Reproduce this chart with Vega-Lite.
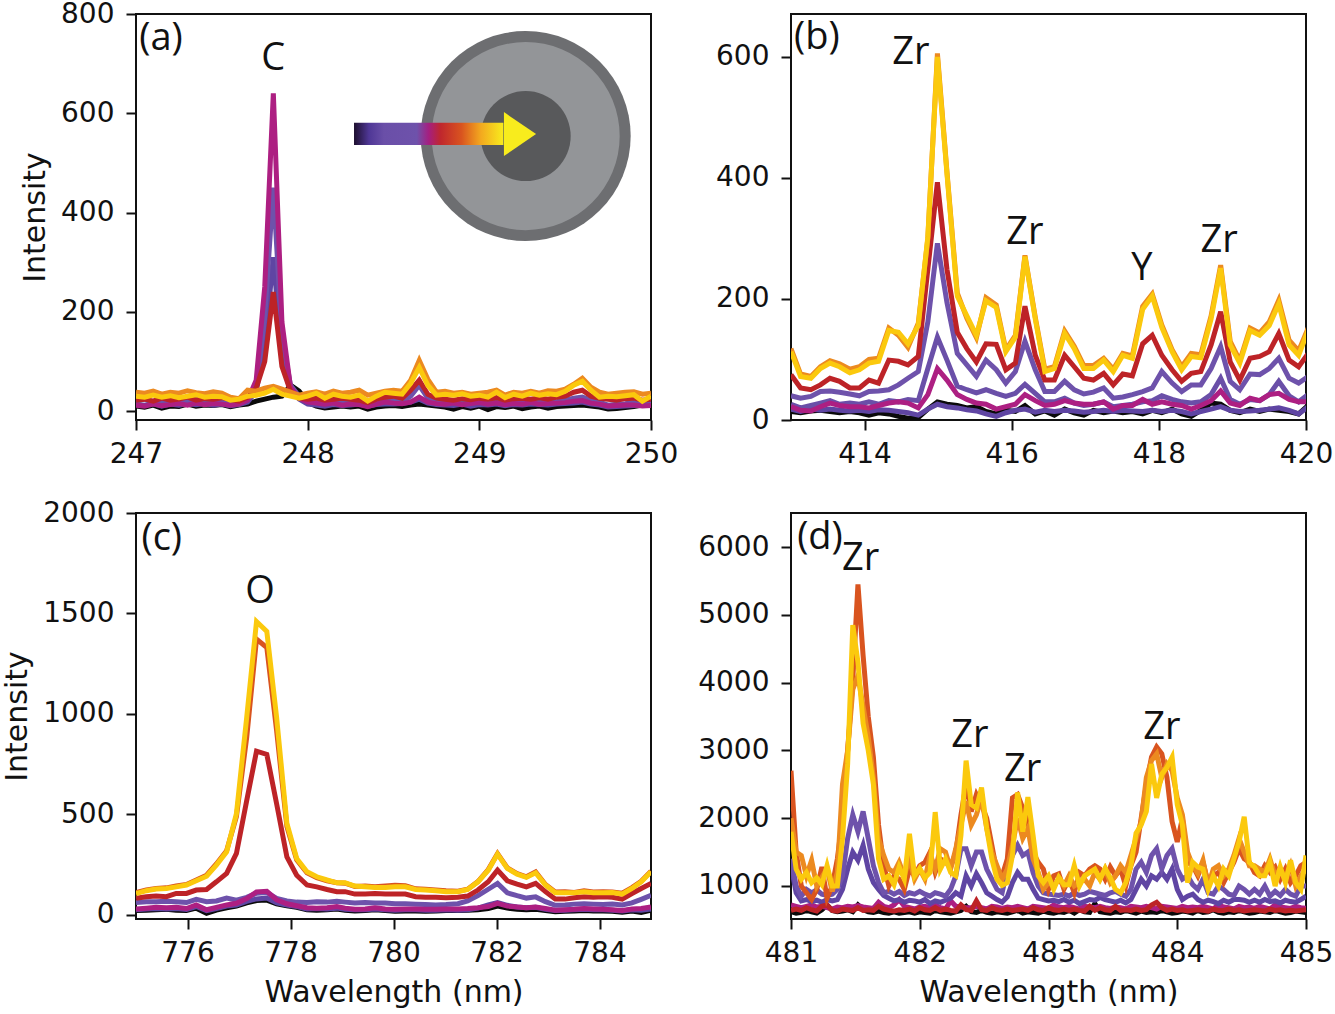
{
"$schema":"https://vega.github.io/schema/vega-lite/v6.json",
"description":"Emission spectra along the radius of a particle, four wavelength windows",
"background":"white",
"padding":{"left":1,"top":-1,"right":0,"bottom":0},
"columns":2,
"spacing":{"column":17,"row":29},
"config":{
"font":"DejaVu Sans",
"view":{"stroke":"#111111","strokeWidth":2},
"axis":{"grid":false,"domain":false,"format":"d","tickColor":"#111111","tickWidth":2,"tickSize":10,"labelFontSize":28,"labelColor":"#111111","titleFontSize":30,"titleFontWeight":"normal","titleColor":"#111111","labelFlush":false,"labelOverlap":false},
"axisX":{"labelPadding":10,"titlePadding":10},
"axisY":{"labelPadding":12,"titlePadding":10}
},
"concat":[
{"width":515,"height":406,
"encoding":{
"x":{"field":"x","type":"quantitative","scale":{"domain":[247,250],"nice":false,"zero":false},"axis":{"values":[247,248,249,250],"title":null}},
"y":{"field":"y","type":"quantitative","scale":{"domain":[-18,800],"nice":false,"zero":false},"axis":{"values":[0,200,400,600,800],"title":"Intensity"}}
},
"layer":[
{"data":{"values":[
{"x":247.00,"k":10,"i":14,"p":20,"m":12,"r":22,"o":38,"g":30},
{"x":247.05,"k":8,"i":12,"p":24,"m":10,"r":24,"o":36,"g":28},
{"x":247.10,"k":12,"i":15,"p":18,"m":14,"r":20,"o":40,"g":32},
{"x":247.15,"k":6,"i":10,"p":20,"m":11,"r":26,"o":34,"g":28},
{"x":247.20,"k":10,"i":14,"p":22,"m":13,"r":22,"o":38,"g":31},
{"x":247.25,"k":9,"i":12,"p":19,"m":15,"r":24,"o":36,"g":27},
{"x":247.30,"k":14,"i":15,"p":21,"m":12,"r":28,"o":41,"g":30},
{"x":247.35,"k":10,"i":13,"p":24,"m":16,"r":22,"o":37,"g":33},
{"x":247.40,"k":12,"i":15,"p":20,"m":13,"r":25,"o":35,"g":28},
{"x":247.45,"k":11,"i":12,"p":18,"m":15,"r":24,"o":39,"g":30},
{"x":247.50,"k":13,"i":14,"p":22,"m":14,"r":27,"o":36,"g":29},
{"x":247.55,"k":9,"i":11,"p":18,"m":12,"r":23,"o":28,"g":22},
{"x":247.60,"k":12,"i":13,"p":16,"m":14,"r":20,"o":25,"g":24},
{"x":247.65,"k":14,"i":18,"p":24,"m":22,"r":28,"o":42,"g":30},
{"x":247.70,"k":20,"i":40,"p":44,"m":62,"r":46,"o":40,"g":32},
{"x":247.75,"k":24,"i":130,"p":190,"m":250,"r":100,"o":46,"g":36},
{"x":247.80,"k":28,"i":310,"p":450,"m":640,"r":240,"o":50,"g":44},
{"x":247.85,"k":30,"i":110,"p":150,"m":180,"r":90,"o":44,"g":34},
{"x":247.90,"k":52,"i":44,"p":52,"m":48,"r":40,"o":38,"g":30},
{"x":247.95,"k":40,"i":24,"p":30,"m":26,"r":26,"o":32,"g":26},
{"x":248.00,"k":18,"i":14,"p":22,"m":18,"r":24,"o":36,"g":30},
{"x":248.05,"k":10,"i":12,"p":20,"m":16,"r":26,"o":39,"g":36},
{"x":248.10,"k":6,"i":10,"p":16,"m":14,"r":22,"o":34,"g":26},
{"x":248.15,"k":8,"i":13,"p":14,"m":16,"r":24,"o":40,"g":34},
{"x":248.20,"k":10,"i":11,"p":18,"m":12,"r":26,"o":36,"g":30},
{"x":248.25,"k":8,"i":12,"p":15,"m":14,"r":24,"o":38,"g":28},
{"x":248.30,"k":10,"i":14,"p":18,"m":13,"r":22,"o":42,"g":32},
{"x":248.35,"k":4,"i":10,"p":12,"m":9,"r":17,"o":32,"g":20},
{"x":248.40,"k":8,"i":13,"p":18,"m":14,"r":24,"o":36,"g":30},
{"x":248.45,"k":10,"i":14,"p":20,"m":18,"r":28,"o":40,"g":38},
{"x":248.50,"k":11,"i":14,"p":22,"m":16,"r":30,"o":42,"g":36},
{"x":248.55,"k":9,"i":15,"p":18,"m":15,"r":26,"o":40,"g":34},
{"x":248.60,"k":12,"i":18,"p":30,"m":18,"r":42,"o":62,"g":56},
{"x":248.65,"k":14,"i":24,"p":52,"m":28,"r":62,"o":102,"g":88},
{"x":248.70,"k":12,"i":16,"p":26,"m":18,"r":34,"o":64,"g":52},
{"x":248.75,"k":10,"i":13,"p":20,"m":15,"r":26,"o":38,"g":32},
{"x":248.80,"k":8,"i":12,"p":16,"m":14,"r":24,"o":40,"g":34},
{"x":248.85,"k":4,"i":11,"p":18,"m":16,"r":22,"o":36,"g":32},
{"x":248.90,"k":9,"i":14,"p":17,"m":13,"r":25,"o":38,"g":35},
{"x":248.95,"k":6,"i":10,"p":20,"m":15,"r":23,"o":34,"g":30},
{"x":249.00,"k":10,"i":13,"p":18,"m":17,"r":26,"o":36,"g":32},
{"x":249.05,"k":3,"i":12,"p":22,"m":14,"r":24,"o":38,"g":28},
{"x":249.10,"k":9,"i":14,"p":19,"m":16,"r":27,"o":42,"g":38},
{"x":249.15,"k":7,"i":11,"p":17,"m":13,"r":22,"o":32,"g":27},
{"x":249.20,"k":10,"i":13,"p":21,"m":15,"r":25,"o":38,"g":34},
{"x":249.25,"k":5,"i":12,"p":18,"m":14,"r":26,"o":36,"g":30},
{"x":249.30,"k":8,"i":14,"p":22,"m":17,"r":24,"o":40,"g":36},
{"x":249.35,"k":10,"i":13,"p":18,"m":14,"r":27,"o":36,"g":32},
{"x":249.40,"k":6,"i":12,"p":20,"m":15,"r":24,"o":41,"g":35},
{"x":249.45,"k":9,"i":14,"p":19,"m":16,"r":28,"o":40,"g":33},
{"x":249.50,"k":10,"i":15,"p":22,"m":17,"r":30,"o":44,"g":40},
{"x":249.55,"k":11,"i":16,"p":26,"m":20,"r":38,"o":54,"g":52},
{"x":249.60,"k":12,"i":18,"p":28,"m":21,"r":42,"o":66,"g":60},
{"x":249.65,"k":10,"i":14,"p":22,"m":16,"r":30,"o":48,"g":42},
{"x":249.70,"k":8,"i":12,"p":18,"m":14,"r":26,"o":38,"g":28},
{"x":249.75,"k":4,"i":8,"p":12,"m":10,"r":24,"o":34,"g":30},
{"x":249.80,"k":5,"i":9,"p":14,"m":11,"r":22,"o":36,"g":29},
{"x":249.85,"k":7,"i":10,"p":15,"m":12,"r":25,"o":38,"g":31},
{"x":249.90,"k":9,"i":11,"p":17,"m":12,"r":26,"o":39,"g":33},
{"x":249.95,"k":12,"i":13,"p":14,"m":10,"r":22,"o":34,"g":20},
{"x":250.00,"k":14,"i":12,"p":18,"m":11,"r":24,"o":36,"g":30}
]},
"transform":[{"fold":["k","i","p","m","r","o","g"],"as":["series","y"]}],
"mark":{"type":"line","strokeWidth":5,"clip":true},
"encoding":{"color":{"field":"series","type":"nominal","legend":null,"scale":{"domain":["k","i","u","p","m","r","e","o","g"],"range":["#0a0a0a","#5f45a3","#6a4fa8","#6e52ab","#ad1f82","#bd2327","#d9541f","#ec8a20","#fbc90d"]}}}},
{"data":{"values":[{"x":249.27,"y":554}]},"mark":{"type":"point","filled":true,"opacity":1,"size":44100,"color":"#6d6e71"}},
{"data":{"values":[{"x":249.27,"y":554}]},"mark":{"type":"point","filled":true,"opacity":1,"size":35344,"color":"#939598"}},
{"data":{"values":[{"x":249.27,"y":554}]},"mark":{"type":"point","filled":true,"opacity":1,"size":8100,"color":"#58595b"}},
{"data":{"values":[{"x":248.27,"x2":249.14,"y":536,"y2":581}]},
"mark":{"type":"rect","color":{"gradient":"linear","x1":0,"y1":0,"x2":1,"y2":0,"stops":[{"offset":0,"color":"#1d0f2e"},{"offset":0.1,"color":"#4f3796"},{"offset":0.2,"color":"#6a4fa8"},{"offset":0.42,"color":"#6e52ab"},{"offset":0.5,"color":"#a51f80"},{"offset":0.58,"color":"#c0272d"},{"offset":0.72,"color":"#d9541f"},{"offset":0.85,"color":"#f3a91f"},{"offset":1,"color":"#f8ec1d"}]}},
"encoding":{"x2":{"field":"x2"},"y2":{"field":"y2"}}},
{"data":{"values":[{"x":249.237,"y":558}]},"mark":{"type":"point","filled":true,"opacity":1,"size":1936,"color":"#f8ec1d","shape":"M -0.73 -1 L 0.73 0 L -0.73 1 Z"}},
{"data":{"values":[{"x":247.146,"y":750,"label":"(a)"},{"x":247.8,"y":710,"label":"C"}]},
"mark":{"type":"text","font":"Open Sans","fontSize":38,"color":"#111111","align":"center","baseline":"middle"},
"encoding":{"text":{"field":"label"}}}
]},
{"width":515,"height":406,
"encoding":{
"x":{"field":"x","type":"quantitative","scale":{"domain":[413,420],"nice":false,"zero":false},"axis":{"values":[414,416,418,420],"title":null}},
"y":{"field":"y","type":"quantitative","scale":{"domain":[0,671],"nice":false,"zero":false},"axis":{"values":[0,200,400,600],"title":null}}
},
"layer":[
{"data":{"values":[
{"x":413.00,"k":14,"i":18,"u":26,"p":40,"m":22,"r":75,"o":118,"g":113},
{"x":413.13,"k":12,"i":14,"u":20,"p":36,"m":16,"r":53,"o":76,"g":72},
{"x":413.27,"k":15,"i":18,"u":24,"p":39,"m":15,"r":50,"o":72,"g":69},
{"x":413.40,"k":16,"i":16,"u":28,"p":47,"m":22,"r":58,"o":88,"g":85},
{"x":413.53,"k":14,"i":18,"u":32,"p":48,"m":28,"r":69,"o":98,"g":94},
{"x":413.66,"k":12,"i":16,"u":26,"p":46,"m":24,"r":64,"o":93,"g":88},
{"x":413.80,"k":14,"i":15,"u":28,"p":43,"m":22,"r":53,"o":84,"g":78},
{"x":413.93,"k":12,"i":16,"u":26,"p":40,"m":22,"r":53,"o":88,"g":83},
{"x":414.06,"k":8,"i":14,"u":30,"p":47,"m":20,"r":66,"o":100,"g":94},
{"x":414.19,"k":12,"i":17,"u":26,"p":48,"m":24,"r":61,"o":102,"g":97},
{"x":414.33,"k":10,"i":16,"u":32,"p":50,"m":28,"r":99,"o":152,"g":148},
{"x":414.46,"k":6,"i":14,"u":30,"p":58,"m":30,"r":97,"o":140,"g":145},
{"x":414.59,"k":3,"i":12,"u":34,"p":69,"m":28,"r":91,"o":120,"g":126},
{"x":414.73,"k":4,"i":8,"u":32,"p":80,"m":20,"r":105,"o":160,"g":156},
{"x":414.86,"k":18,"i":18,"u":85,"p":162,"m":42,"r":249,"o":300,"g":303},
{"x":414.99,"k":30,"i":26,"u":137,"p":292,"m":85,"r":393,"o":606,"g":600},
{"x":415.12,"k":26,"i":22,"u":99,"p":194,"m":66,"r":249,"o":410,"g":407},
{"x":415.26,"k":24,"i":20,"u":56,"p":110,"m":42,"r":145,"o":210,"g":205},
{"x":415.39,"k":20,"i":17,"u":50,"p":91,"m":34,"r":118,"o":168,"g":172},
{"x":415.52,"k":22,"i":15,"u":45,"p":72,"m":28,"r":96,"o":136,"g":140},
{"x":415.65,"k":14,"i":10,"u":50,"p":99,"m":26,"r":126,"o":202,"g":197},
{"x":415.79,"k":10,"i":6,"u":44,"p":83,"m":18,"r":125,"o":190,"g":186},
{"x":415.92,"k":16,"i":12,"u":39,"p":61,"m":22,"r":83,"o":116,"g":113},
{"x":416.05,"k":14,"i":16,"u":44,"p":80,"m":26,"r":94,"o":140,"g":137},
{"x":416.18,"k":24,"i":18,"u":59,"p":130,"m":42,"r":188,"o":272,"g":270},
{"x":416.32,"k":10,"i":13,"u":44,"p":83,"m":32,"r":107,"o":170,"g":167},
{"x":416.45,"k":15,"i":16,"u":30,"p":47,"m":24,"r":66,"o":84,"g":80},
{"x":416.58,"k":8,"i":14,"u":30,"p":47,"m":26,"r":66,"o":88,"g":85},
{"x":416.72,"k":18,"i":16,"u":36,"p":64,"m":32,"r":107,"o":147,"g":143},
{"x":416.85,"k":12,"i":15,"u":28,"p":50,"m":28,"r":88,"o":122,"g":118},
{"x":416.98,"k":8,"i":13,"u":24,"p":43,"m":26,"r":69,"o":90,"g":85},
{"x":417.11,"k":16,"i":14,"u":26,"p":46,"m":26,"r":66,"o":90,"g":85},
{"x":417.25,"k":12,"i":16,"u":30,"p":53,"m":30,"r":77,"o":102,"g":99},
{"x":417.38,"k":15,"i":14,"u":22,"p":36,"m":18,"r":58,"o":84,"g":80},
{"x":417.51,"k":12,"i":16,"u":24,"p":38,"m":24,"r":76,"o":110,"g":107},
{"x":417.64,"k":14,"i":15,"u":26,"p":42,"m":24,"r":73,"o":106,"g":102},
{"x":417.78,"k":10,"i":14,"u":30,"p":47,"m":34,"r":126,"o":188,"g":183},
{"x":417.91,"k":16,"i":16,"u":32,"p":53,"m":26,"r":140,"o":208,"g":205},
{"x":418.04,"k":12,"i":14,"u":40,"p":80,"m":30,"r":107,"o":157,"g":153},
{"x":418.18,"k":18,"i":16,"u":34,"p":61,"m":26,"r":83,"o":116,"g":113},
{"x":418.31,"k":10,"i":14,"u":30,"p":47,"m":24,"r":64,"o":88,"g":83},
{"x":418.44,"k":6,"i":10,"u":28,"p":58,"m":18,"r":77,"o":110,"g":105},
{"x":418.57,"k":16,"i":14,"u":30,"p":58,"m":24,"r":80,"o":108,"g":103},
{"x":418.71,"k":28,"i":18,"u":42,"p":85,"m":32,"r":124,"o":172,"g":167},
{"x":418.84,"k":26,"i":22,"u":69,"p":121,"m":48,"r":179,"o":256,"g":251},
{"x":418.97,"k":16,"i":16,"u":34,"p":64,"m":28,"r":96,"o":130,"g":124},
{"x":419.10,"k":12,"i":14,"u":26,"p":50,"m":24,"r":66,"o":98,"g":94},
{"x":419.24,"k":18,"i":15,"u":34,"p":76,"m":36,"r":102,"o":152,"g":148},
{"x":419.37,"k":14,"i":16,"u":32,"p":75,"m":32,"r":105,"o":144,"g":140},
{"x":419.50,"k":18,"i":18,"u":42,"p":85,"m":42,"r":113,"o":162,"g":156},
{"x":419.63,"k":16,"i":20,"u":64,"p":102,"m":44,"r":143,"o":198,"g":192},
{"x":419.77,"k":14,"i":16,"u":40,"p":69,"m":34,"r":99,"o":132,"g":124},
{"x":419.90,"k":10,"i":10,"u":30,"p":61,"m":30,"r":88,"o":114,"g":107},
{"x":420.03,"k":24,"i":22,"u":42,"p":72,"m":30,"r":110,"o":152,"g":148}
]},
"transform":[{"fold":["k","i","u","p","m","r","o","g"],"as":["series","y"]}],
"mark":{"type":"line","strokeWidth":5,"clip":true},
"encoding":{"color":{"field":"series","type":"nominal","legend":null,"scale":{"domain":["k","i","u","p","m","r","e","o","g"],"range":["#0a0a0a","#4a2f8f","#6a4fa8","#6e52ab","#ad1f82","#bd2327","#d9541f","#e0701f","#fbc90d"]}}}},
{"data":{"values":[{"x":413.35,"y":631,"label":"(b)"},{"x":414.63,"y":607,"label":"Zr"},{"x":416.18,"y":309,"label":"Zr"},{"x":417.77,"y":250,"label":"Y"},{"x":418.82,"y":296,"label":"Zr"}]},
"mark":{"type":"text","font":"Open Sans","fontSize":38,"color":"#111111","align":"center","baseline":"middle"},
"encoding":{"text":{"field":"label"}}}
]},
{"width":515,"height":406,
"encoding":{
"x":{"field":"x","type":"quantitative","scale":{"domain":[775,785],"nice":false,"zero":false},"axis":{"values":[776,778,780,782,784],"title":"Wavelength (nm)"}},
"y":{"field":"y","type":"quantitative","scale":{"domain":[-20,2000],"nice":false,"zero":false},"axis":{"values":[0,500,1000,1500,2000],"title":"Intensity"}}
},
"layer":[
{"data":{"values":[
{"x":775.00,"k":22,"i":26,"p":62,"m":30,"r":83,"e":112,"g":107},
{"x":775.20,"k":24,"i":30,"p":66,"m":34,"r":91,"e":124,"g":121},
{"x":775.39,"k":26,"i":32,"p":66,"m":38,"r":94,"e":132,"g":129},
{"x":775.59,"k":28,"i":30,"p":68,"m":36,"r":91,"e":135,"g":132},
{"x":775.78,"k":24,"i":32,"p":66,"m":38,"r":107,"e":144,"g":140},
{"x":775.98,"k":22,"i":28,"p":62,"m":32,"r":107,"e":152,"g":149},
{"x":776.17,"k":34,"i":42,"p":78,"m":50,"r":124,"e":174,"g":170},
{"x":776.37,"k":8,"i":22,"p":66,"m":26,"r":127,"e":198,"g":193},
{"x":776.56,"k":24,"i":32,"p":70,"m":38,"r":165,"e":254,"g":248},
{"x":776.76,"k":36,"i":44,"p":84,"m":50,"r":207,"e":320,"g":314},
{"x":776.95,"k":44,"i":50,"p":74,"m":58,"r":306,"e":490,"g":504},
{"x":777.15,"k":60,"i":68,"p":88,"m":82,"r":570,"e":885,"g":984},
{"x":777.34,"k":72,"i":80,"p":108,"m":115,"r":815,"e":1373,"g":1460},
{"x":777.54,"k":74,"i":84,"p":112,"m":118,"r":799,"e":1331,"g":1411},
{"x":777.73,"k":56,"i":60,"p":82,"m":76,"r":554,"e":918,"g":984},
{"x":777.93,"k":46,"i":50,"p":70,"m":56,"r":289,"e":440,"g":455},
{"x":778.12,"k":38,"i":42,"p":64,"m":46,"r":198,"e":275,"g":281},
{"x":778.32,"k":26,"i":30,"p":62,"m":36,"r":149,"e":210,"g":215},
{"x":778.51,"k":24,"i":32,"p":66,"m":34,"r":140,"e":186,"g":190},
{"x":778.71,"k":26,"i":30,"p":64,"m":36,"r":127,"e":170,"g":174},
{"x":778.90,"k":30,"i":34,"p":68,"m":42,"r":116,"e":160,"g":160},
{"x":779.06,"k":24,"i":28,"p":64,"m":34,"r":116,"e":158,"g":160},
{"x":779.25,"k":20,"i":26,"p":60,"m":28,"r":104,"e":142,"g":144},
{"x":779.45,"k":22,"i":26,"p":62,"m":30,"r":104,"e":144,"g":140},
{"x":779.64,"k":26,"i":30,"p":60,"m":36,"r":107,"e":140,"g":137},
{"x":779.84,"k":22,"i":26,"p":60,"m":30,"r":104,"e":144,"g":137},
{"x":780.03,"k":18,"i":24,"p":56,"m":28,"r":104,"e":148,"g":140},
{"x":780.23,"k":20,"i":26,"p":56,"m":30,"r":104,"e":146,"g":140},
{"x":780.43,"k":20,"i":26,"p":54,"m":30,"r":91,"e":130,"g":127},
{"x":780.62,"k":18,"i":24,"p":52,"m":28,"r":88,"e":128,"g":124},
{"x":780.82,"k":20,"i":24,"p":50,"m":28,"r":88,"e":124,"g":121},
{"x":781.02,"k":22,"i":26,"p":52,"m":30,"r":86,"e":120,"g":116},
{"x":781.25,"k":22,"i":24,"p":56,"m":30,"r":88,"e":118,"g":116},
{"x":781.44,"k":24,"i":26,"p":70,"m":32,"r":94,"e":128,"g":127},
{"x":781.64,"k":26,"i":34,"p":96,"m":36,"r":124,"e":166,"g":165},
{"x":781.84,"k":32,"i":50,"p":128,"m":42,"r":165,"e":226,"g":223},
{"x":782.02,"k":44,"i":62,"p":157,"m":58,"r":223,"e":305,"g":303},
{"x":782.21,"k":34,"i":48,"p":110,"m":44,"r":170,"e":234,"g":232},
{"x":782.40,"k":28,"i":40,"p":96,"m":40,"r":154,"e":206,"g":203},
{"x":782.58,"k":26,"i":36,"p":84,"m":36,"r":140,"e":190,"g":187},
{"x":782.76,"k":28,"i":38,"p":90,"m":40,"r":157,"e":214,"g":210},
{"x":782.95,"k":22,"i":28,"p":66,"m":32,"r":116,"e":152,"g":149},
{"x":783.14,"k":16,"i":22,"p":48,"m":24,"r":79,"e":114,"g":111},
{"x":783.33,"k":18,"i":24,"p":50,"m":26,"r":79,"e":116,"g":111},
{"x":783.51,"k":20,"i":26,"p":54,"m":28,"r":86,"e":112,"g":111},
{"x":783.70,"k":22,"i":28,"p":56,"m":32,"r":91,"e":120,"g":116},
{"x":783.88,"k":20,"i":26,"p":54,"m":30,"r":88,"e":114,"g":111},
{"x":784.07,"k":20,"i":26,"p":52,"m":28,"r":91,"e":116,"g":111},
{"x":784.25,"k":18,"i":24,"p":54,"m":26,"r":88,"e":114,"g":112},
{"x":784.44,"k":14,"i":20,"p":50,"m":22,"r":79,"e":108,"g":104},
{"x":784.63,"k":20,"i":26,"p":60,"m":30,"r":107,"e":136,"g":132},
{"x":784.81,"k":12,"i":24,"p":78,"m":32,"r":132,"e":168,"g":165},
{"x":785.00,"k":24,"i":30,"p":98,"m":40,"r":157,"e":218,"g":215}
]},
"transform":[{"fold":["k","i","p","m","r","e","g"],"as":["series","y"]}],
"mark":{"type":"line","strokeWidth":5,"clip":true},
"encoding":{"color":{"field":"series","type":"nominal","legend":null,"scale":{"domain":["k","i","u","p","m","r","e","o","g"],"range":["#0a0a0a","#4a2f8f","#6a4fa8","#6e52ab","#ad1f82","#bd2327","#d9541f","#ec8a20","#fbc90d"]}}}},
{"data":{"values":[{"x":775.5,"y":1870,"label":"(c)"},{"x":777.41,"y":1607,"label":"O"}]},
"mark":{"type":"text","font":"Open Sans","fontSize":38,"color":"#111111","align":"center","baseline":"middle"},
"encoding":{"text":{"field":"label"}}}
]},
{"width":515,"height":406,
"encoding":{
"x":{"field":"x","type":"quantitative","scale":{"domain":[481,485],"nice":false,"zero":false},"axis":{"values":[481,482,483,484,485],"title":"Wavelength (nm)"}},
"y":{"field":"y","type":"quantitative","scale":{"domain":[513,6502],"nice":false,"zero":false},"axis":{"values":[1000,2000,3000,4000,5000,6000],"title":null}}
},
"layer":[
{"data":{"values":[
{"x":481.00,"k":620,"m":720,"r":640,"i":1300,"p":1400,"e":2700,"o":2000,"g":1800},
{"x":481.04,"k":600,"m":700,"r":660,"i":900,"p":1000,"e":1500,"o":1500,"g":1250},
{"x":481.08,"k":610,"m":680,"r":640,"i":780,"p":850,"e":1000,"o":1450,"g":1100},
{"x":481.12,"k":640,"m":700,"r":680,"i":800,"p":950,"e":900,"o":1150,"g":1200},
{"x":481.16,"k":620,"m":720,"r":650,"i":770,"p":900,"e":800,"o":1380,"g":1050},
{"x":481.20,"k":600,"m":690,"r":630,"i":790,"p":940,"e":950,"o":1000,"g":1120},
{"x":481.24,"k":650,"m":700,"r":700,"i":760,"p":880,"e":1280,"o":1130,"g":1020},
{"x":481.28,"k":720,"m":680,"r":720,"i":800,"p":860,"e":820,"o":1260,"g":1300},
{"x":481.32,"k":640,"m":660,"r":640,"i":780,"p":880,"e":1000,"o":920,"g":1000},
{"x":481.36,"k":620,"m":690,"r":630,"i":800,"p":950,"e":1400,"o":1200,"g":1000},
{"x":481.40,"k":630,"m":680,"r":660,"i":950,"p":1150,"e":2000,"o":2500,"g":1700},
{"x":481.44,"k":650,"m":700,"r":650,"i":1250,"p":1700,"e":3000,"o":3000,"g":2800},
{"x":481.48,"k":620,"m":690,"r":640,"i":1500,"p":2050,"e":4050,"o":3900,"g":4850},
{"x":481.52,"k":720,"m":710,"r":680,"i":1380,"p":1800,"e":5450,"o":4100,"g":4300},
{"x":481.56,"k":650,"m":690,"r":640,"i":1600,"p":2100,"e":4400,"o":3650,"g":3400},
{"x":481.60,"k":620,"m":680,"r":650,"i":1250,"p":1700,"e":3500,"o":3200,"g":3000},
{"x":481.64,"k":610,"m":670,"r":640,"i":1050,"p":1300,"e":2900,"o":2600,"g":2500},
{"x":481.68,"k":630,"m":760,"r":700,"i":950,"p":1050,"e":1900,"o":1700,"g":1400},
{"x":481.72,"k":610,"m":700,"r":660,"i":860,"p":900,"e":1300,"o":1450,"g":1100},
{"x":481.76,"k":600,"m":680,"r":640,"i":820,"p":920,"e":1000,"o":1250,"g":1150},
{"x":481.80,"k":620,"m":720,"r":630,"i":780,"p":880,"e":1150,"o":1200,"g":1020},
{"x":481.84,"k":600,"m":800,"r":650,"i":800,"p":920,"e":1100,"o":1350,"g":1280},
{"x":481.88,"k":610,"m":700,"r":640,"i":760,"p":860,"e":950,"o":1150,"g":1100},
{"x":481.92,"k":620,"m":680,"r":660,"i":790,"p":900,"e":1250,"o":1400,"g":1770},
{"x":481.96,"k":600,"m":660,"r":630,"i":780,"p":880,"e":1150,"o":1100,"g":1150},
{"x":482.00,"k":620,"m":690,"r":680,"i":760,"p":920,"e":1300,"o":1250,"g":1260},
{"x":482.04,"k":610,"m":700,"r":650,"i":800,"p":880,"e":1350,"o":1100,"g":1120},
{"x":482.08,"k":600,"m":680,"r":640,"i":740,"p":850,"e":1500,"o":1450,"g":1200},
{"x":482.12,"k":640,"m":720,"r":680,"i":780,"p":900,"e":1200,"o":1250,"g":2090},
{"x":482.16,"k":620,"m":680,"r":640,"i":760,"p":880,"e":1400,"o":1550,"g":1250},
{"x":482.20,"k":610,"m":660,"r":660,"i":790,"p":850,"e":1350,"o":1500,"g":1400},
{"x":482.24,"k":600,"m":780,"r":640,"i":820,"p":950,"e":1280,"o":1250,"g":1200},
{"x":482.28,"k":620,"m":700,"r":630,"i":900,"p":1150,"e":1500,"o":1550,"g":1150},
{"x":482.32,"k":640,"m":690,"r":720,"i":850,"p":1550,"e":2050,"o":1900,"g":1750},
{"x":482.36,"k":700,"m":680,"r":650,"i":1150,"p":1550,"e":2500,"o":2250,"g":2850},
{"x":482.40,"k":620,"m":680,"r":640,"i":1000,"p":1300,"e":2100,"o":1900,"g":2200},
{"x":482.44,"k":610,"m":700,"r":780,"i":1180,"p":1500,"e":2350,"o":2050,"g":2150},
{"x":482.48,"k":640,"m":680,"r":650,"i":1050,"p":1500,"e":2200,"o":2300,"g":2450},
{"x":482.52,"k":610,"m":660,"r":640,"i":900,"p":1250,"e":2000,"o":1850,"g":1850},
{"x":482.56,"k":600,"m":700,"r":680,"i":850,"p":1100,"e":1600,"o":1500,"g":1400},
{"x":482.60,"k":620,"m":690,"r":650,"i":800,"p":950,"e":1200,"o":1300,"g":1100},
{"x":482.64,"k":610,"m":670,"r":640,"i":760,"p":900,"e":1150,"o":1100,"g":1010},
{"x":482.68,"k":600,"m":690,"r":660,"i":840,"p":1250,"e":1400,"o":1250,"g":1050},
{"x":482.72,"k":620,"m":680,"r":640,"i":1050,"p":1450,"e":2300,"o":1600,"g":1450},
{"x":482.76,"k":640,"m":700,"r":650,"i":1200,"p":1600,"e":2350,"o":2000,"g":2380},
{"x":482.80,"k":600,"m":680,"r":660,"i":1100,"p":1450,"e":2150,"o":1700,"g":1800},
{"x":482.84,"k":620,"m":660,"r":640,"i":1100,"p":1500,"e":1950,"o":1850,"g":2310},
{"x":482.88,"k":610,"m":700,"r":680,"i":950,"p":1200,"e":1500,"o":1400,"g":1750},
{"x":482.92,"k":600,"m":690,"r":650,"i":820,"p":1000,"e":1350,"o":1200,"g":1150},
{"x":482.96,"k":630,"m":680,"r":640,"i":800,"p":900,"e":1250,"o":950,"g":1050},
{"x":483.00,"k":610,"m":670,"r":680,"i":780,"p":880,"e":950,"o":1050,"g":1150},
{"x":483.04,"k":600,"m":720,"r":650,"i":790,"p":870,"e":1150,"o":1000,"g":950},
{"x":483.08,"k":620,"m":690,"r":640,"i":770,"p":860,"e":1180,"o":1100,"g":1130},
{"x":483.12,"k":610,"m":680,"r":660,"i":800,"p":880,"e":950,"o":1000,"g":1020},
{"x":483.16,"k":640,"m":700,"r":640,"i":760,"p":850,"e":1100,"o":1150,"g":1020},
{"x":483.20,"k":600,"m":680,"r":660,"i":790,"p":900,"e":900,"o":1000,"g":1300},
{"x":483.24,"k":650,"m":660,"r":640,"i":740,"p":860,"e":1200,"o":1050,"g":1000},
{"x":483.28,"k":620,"m":700,"r":630,"i":770,"p":880,"e":1150,"o":1100,"g":1150},
{"x":483.32,"k":610,"m":690,"r":700,"i":800,"p":920,"e":1250,"o":1000,"g":1200},
{"x":483.36,"k":740,"m":680,"r":640,"i":790,"p":900,"e":1300,"o":1200,"g":1250},
{"x":483.40,"k":620,"m":700,"r":680,"i":830,"p":880,"e":1250,"o":1100,"g":1100},
{"x":483.44,"k":610,"m":680,"r":650,"i":800,"p":860,"e":1100,"o":1250,"g":1260},
{"x":483.48,"k":600,"m":670,"r":640,"i":780,"p":900,"e":1280,"o":1050,"g":1120},
{"x":483.52,"k":620,"m":690,"r":700,"i":760,"p":920,"e":1150,"o":1150,"g":950},
{"x":483.56,"k":610,"m":680,"r":640,"i":790,"p":880,"e":1250,"o":1300,"g":900},
{"x":483.60,"k":640,"m":660,"r":650,"i":750,"p":850,"e":1000,"o":1200,"g":1050},
{"x":483.64,"k":620,"m":700,"r":640,"i":800,"p":950,"e":1300,"o":1450,"g":1300},
{"x":483.68,"k":600,"m":690,"r":660,"i":950,"p":1250,"e":1500,"o":1700,"g":1780},
{"x":483.72,"k":630,"m":680,"r":640,"i":1100,"p":1350,"e":2000,"o":1950,"g":1900},
{"x":483.76,"k":610,"m":700,"r":650,"i":1000,"p":1200,"e":2500,"o":2600,"g":2100},
{"x":483.80,"k":620,"m":680,"r":720,"i":1150,"p":1450,"e":2900,"o":2850,"g":2800},
{"x":483.84,"k":610,"m":660,"r":760,"i":1100,"p":1550,"e":3050,"o":2950,"g":2300},
{"x":483.88,"k":640,"m":700,"r":680,"i":1200,"p":1250,"e":2950,"o":2600,"g":2650},
{"x":483.92,"k":620,"m":690,"r":640,"i":1100,"p":1450,"e":2600,"o":2800,"g":2750},
{"x":483.96,"k":600,"m":680,"r":660,"i":1250,"p":1550,"e":1950,"o":2700,"g":2900},
{"x":484.00,"k":610,"m":670,"r":640,"i":950,"p":1250,"e":1650,"o":2300,"g":2200},
{"x":484.04,"k":630,"m":700,"r":650,"i":800,"p":1100,"e":2000,"o":2050,"g":1900},
{"x":484.08,"k":620,"m":680,"r":630,"i":850,"p":1150,"e":1350,"o":1500,"g":1050},
{"x":484.12,"k":600,"m":690,"r":640,"i":880,"p":1020,"e":1300,"o":1300,"g":1350},
{"x":484.16,"k":640,"m":680,"r":650,"i":800,"p":950,"e":1150,"o":1180,"g":1280},
{"x":484.20,"k":610,"m":700,"r":640,"i":760,"p":1100,"e":1350,"o":1380,"g":1250},
{"x":484.24,"k":620,"m":680,"r":630,"i":790,"p":900,"e":1050,"o":1000,"g":950},
{"x":484.28,"k":650,"m":660,"r":660,"i":770,"p":880,"e":1150,"o":1250,"g":1150},
{"x":484.32,"k":610,"m":720,"r":640,"i":740,"p":1000,"e":1200,"o":1300,"g":1000},
{"x":484.36,"k":600,"m":690,"r":640,"i":790,"p":950,"e":1050,"o":1150,"g":1250},
{"x":484.40,"k":620,"m":680,"r":660,"i":760,"p":880,"e":1200,"o":1250,"g":1150},
{"x":484.44,"k":610,"m":660,"r":640,"i":800,"p":860,"e":1350,"o":1450,"g":1400},
{"x":484.48,"k":640,"m":700,"r":650,"i":800,"p":1000,"e":1550,"o":1700,"g":1650},
{"x":484.52,"k":620,"m":680,"r":630,"i":790,"p":950,"e":1400,"o":1500,"g":2020},
{"x":484.56,"k":600,"m":690,"r":640,"i":760,"p":880,"e":1350,"o":1300,"g":1350},
{"x":484.60,"k":610,"m":670,"r":650,"i":790,"p":950,"e":1200,"o":1300,"g":1280},
{"x":484.64,"k":630,"m":700,"r":640,"i":760,"p":880,"e":1150,"o":1250,"g":1150},
{"x":484.68,"k":620,"m":680,"r":630,"i":800,"p":1000,"e":1300,"o":1200,"g":1150},
{"x":484.72,"k":610,"m":660,"r":660,"i":770,"p":850,"e":1200,"o":1400,"g":1350},
{"x":484.76,"k":640,"m":720,"r":640,"i":780,"p":920,"e":1280,"o":1150,"g":1000},
{"x":484.80,"k":620,"m":690,"r":650,"i":750,"p":860,"e":1100,"o":1250,"g":1280},
{"x":484.84,"k":600,"m":680,"r":630,"i":790,"p":950,"e":1250,"o":1100,"g":1050},
{"x":484.88,"k":610,"m":670,"r":640,"i":770,"p":880,"e":1050,"o":1300,"g":1380},
{"x":484.92,"k":630,"m":700,"r":630,"i":760,"p":850,"e":1150,"o":1000,"g":1050},
{"x":484.96,"k":620,"m":680,"r":640,"i":800,"p":1000,"e":1300,"o":1150,"g":950},
{"x":485.00,"k":610,"m":670,"r":650,"i":850,"p":1000,"e":1350,"o":1250,"g":1450}
]},
"transform":[{"fold":["k","m","i","p","r","e","o","g"],"as":["series","y"]}],
"mark":{"type":"line","strokeWidth":5,"clip":true},
"encoding":{"color":{"field":"series","type":"nominal","legend":null,"scale":{"domain":["k","i","u","p","m","r","e","o","g"],"range":["#0a0a0a","#4a2f8f","#6a4fa8","#6e52ab","#ad1f82","#c3262a","#d9541f","#ec8a20","#fbc90d"]}}}},
{"data":{"values":[{"x":481.225,"y":6126,"label":"(d)"},{"x":481.54,"y":5830,"label":"Zr"},{"x":482.39,"y":3216,"label":"Zr"},{"x":482.80,"y":2713,"label":"Zr"},{"x":483.88,"y":3334,"label":"Zr"}]},
"mark":{"type":"text","font":"Open Sans","fontSize":38,"color":"#111111","align":"center","baseline":"middle"},
"encoding":{"text":{"field":"label"}}}
]}
]
}
